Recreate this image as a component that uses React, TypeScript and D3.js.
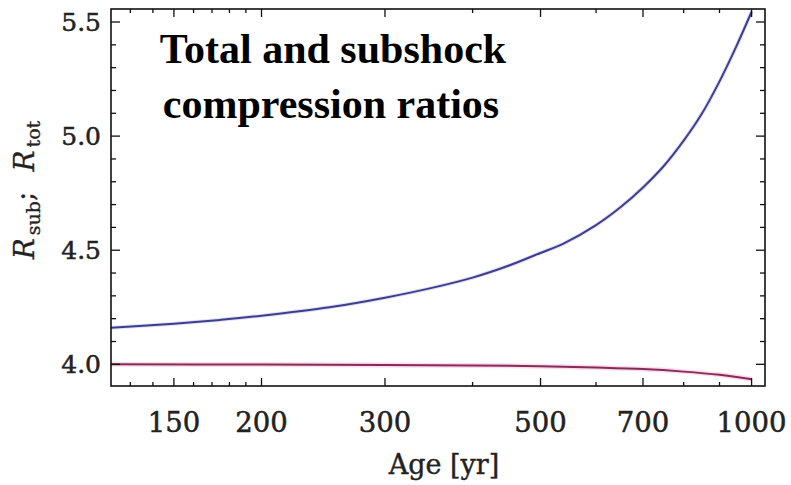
import React from "react";
import * as d3 from "d3";

// Shock age in years and compression ratios
const ages = [122, 150, 175, 200, 250, 300, 350, 400, 450, 500, 540, 600, 650, 700, 750, 800, 850, 900, 950, 1000];
const rTot = [4.16, 4.178, 4.195, 4.213, 4.25, 4.292, 4.335, 4.38, 4.432, 4.488, 4.53, 4.61, 4.688, 4.775, 4.87, 4.98, 5.1, 5.24, 5.39, 5.545];

const subAges = [122, 200, 300, 400, 500, 600, 700, 800, 900, 1000];
const rSub = [4.0, 3.999, 3.997, 3.995, 3.992, 3.986, 3.979, 3.968, 3.954, 3.935];

const xMajor = [150, 200, 300, 500, 700, 1000];
const xMinor = [130, 140, 160, 170, 180, 190, 400, 600, 800, 900];
const yMajor = [4.0, 4.5, 5.0, 5.5];
const yMinor = [4.1, 4.2, 4.3, 4.4, 4.6, 4.7, 4.8, 4.9, 5.1, 5.2, 5.3, 5.4];

const W = 791;
const H = 485;
const L = 111, R = 765, T = 9, B = 386;

export default function App() {
  const x = d3.scaleLog().domain([122, 1045]).range([L, R]);
  const y = d3.scaleLinear().domain([3.905, 5.557]).range([B, T]);

  const line = d3
    .line<[number, number]>()
    .x((d) => x(d[0]))
    .y((d) => y(d[1]))
    .curve(d3.curveCatmullRom.alpha(0.5));

  const totPath = line(ages.map((a, i) => [a, rTot[i]]) as [number, number][]) || "";
  const subPath = line(subAges.map((a, i) => [a, rSub[i]]) as [number, number][]) || "";

  const tickFont = "'DejaVu Serif', serif";

  return (
    <div style={{ position: "fixed", left: 0, top: 0 }}>
      <svg width={W} height={H} viewBox={`0 0 ${W} ${H}`} style={{ display: "block", background: "#fff" }}>
        <defs>
          <clipPath id="plot">
            <rect x={L} y={T} width={R - L} height={B - T} />
          </clipPath>
        </defs>

        {/* curves */}
        <g clipPath="url(#plot)" fill="none" strokeLinejoin="round">
          <path d={subPath} stroke="#f2c6d8" strokeWidth={5} opacity={0.6} />
          <path d={subPath} stroke="#8a2a5a" strokeWidth={2} />
          <path d={totPath} stroke="#c9c9ee" strokeWidth={4} opacity={0.6} />
          <path d={totPath} stroke="#3e3e8e" strokeWidth={2} />
        </g>

        {/* frame */}
        <rect x={L} y={T} width={R - L} height={B - T} fill="none" stroke="#111" strokeWidth={1.6} />

        {/* ticks on all four sides, pointing inward */}
        <g stroke="#111" strokeWidth={1.3}>
          {xMajor.map((v) => (
            <g key={"xM" + v}>
              <line x1={x(v)} x2={x(v)} y1={B} y2={B - 8} />
              <line x1={x(v)} x2={x(v)} y1={T} y2={T + 8} />
            </g>
          ))}
          {xMinor.map((v) => (
            <g key={"xm" + v}>
              <line x1={x(v)} x2={x(v)} y1={B} y2={B - 4} />
              <line x1={x(v)} x2={x(v)} y1={T} y2={T + 4} />
            </g>
          ))}
          {yMajor.map((v) => (
            <g key={"yM" + v}>
              <line x1={L} x2={L + 9} y1={y(v)} y2={y(v)} />
              <line x1={R} x2={R - 9} y1={y(v)} y2={y(v)} />
            </g>
          ))}
          {yMinor.map((v) => (
            <g key={"ym" + v}>
              <line x1={L} x2={L + 5} y1={y(v)} y2={y(v)} />
              <line x1={R} x2={R - 5} y1={y(v)} y2={y(v)} />
            </g>
          ))}
        </g>

        {/* tick labels */}
        <g fontFamily={tickFont} fill="#222" stroke="#222" strokeWidth={0.5}>
          {xMajor.map((v) => (
            <text key={"xl" + v} x={x(v)} y={432} textAnchor="middle" fontSize={27.5}>
              {v}
            </text>
          ))}
          {yMajor.map((v) => (
            <text key={"yl" + v} x={101} y={y(v) + 9} textAnchor="end" fontSize={25}>
              {v.toFixed(1)}
            </text>
          ))}
        </g>

        {/* axis titles */}
        <text x={444} y={474} textAnchor="middle" fontFamily={tickFont} fontSize={27} fill="#222" stroke="#222" strokeWidth={0.4}>
          Age [yr]
        </text>
        <text
          transform={`translate(34, 190) rotate(-90)`}
          textAnchor="middle"
          fontFamily={tickFont}
          fontSize={28}
          fill="#222"
          stroke="#222"
          strokeWidth={0.3}
        >
          <tspan fontStyle="italic">R</tspan>
          <tspan fontSize={19} dx={3} dy={6}>sub</tspan>
          <tspan dy={-6}>;</tspan>
          <tspan dx={20} fontStyle="italic">R</tspan>
          <tspan fontSize={19} dx={3} dy={6}>tot</tspan>
        </text>

        {/* title */}
        <g fontFamily="'Liberation Serif', 'Times New Roman', serif" fontWeight="bold" fontSize={42} fill="#000" textAnchor="middle">
          <text x={333} y={63}>Total and subshock</text>
          <text x={331} y={118}>compression ratios</text>
        </g>
      </svg>
    </div>
  );
}
